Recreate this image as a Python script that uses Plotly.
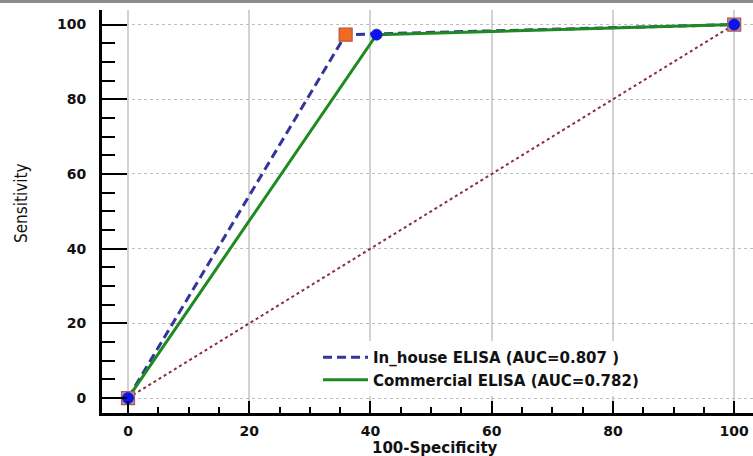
import plotly.graph_objects as go

# Data
inhouse_x = [0, 35.9, 100]
inhouse_y = [0, 97.3, 100]
commercial_x = [0, 41.0, 100]
commercial_y = [0, 97.3, 100]
ref_x = [0, 100]
ref_y = [0, 100]
inhouse_name = "In_house ELISA (AUC=0.807 )"
commercial_name = "Commercial ELISA (AUC=0.782)"
tick_vals = [0, 20, 40, 60, 80, 100]
tick_text = ["0", "20", "40", "60", "80", "100"]
inhouse_marker_colors = ["#A08FCB", "#F26A1E", "#A08FCB"]

fig = go.Figure()

fig.add_trace(go.Scatter(x=ref_x, y=ref_y, mode="lines",
                         line=dict(color="#8B2E3A", width=2, dash="dot"),
                         showlegend=False, hoverinfo="skip"))
fig.add_trace(go.Scatter(x=inhouse_x, y=inhouse_y, mode="lines", name=inhouse_name,
                         line=dict(color="#34349A", width=3, dash="9px,5px")))
fig.add_trace(go.Scatter(x=commercial_x, y=commercial_y, mode="lines", name=commercial_name,
                         line=dict(color="#1E8A22", width=3)))
fig.add_trace(go.Scatter(x=inhouse_x, y=inhouse_y, mode="markers", showlegend=False,
                         marker=dict(symbol="square", size=13, color=inhouse_marker_colors,
                                     line=dict(color="#B0584A", width=1.2))))
fig.add_trace(go.Scatter(x=commercial_x, y=commercial_y, mode="markers", showlegend=False,
                         marker=dict(symbol="circle", size=11, color="#0A14F0",
                                     line=dict(color="#1A1A90", width=0.8))))

tick_font = dict(family="DejaVu Sans", size=14, color="#111111", weight="bold")

fig.update_xaxes(
    range=[-4.29, 103.1], tickvals=tick_vals, ticktext=tick_text,
    showline=True, linecolor="black", linewidth=3,
    ticks="inside", ticklen=12, tickwidth=2, tickcolor="black",
    minor=dict(dtick=5, tick0=0, ticks="inside", ticklen=6, tickwidth=2, tickcolor="black",
               showgrid=False),
    showgrid=True, gridcolor="#D2D2D2", gridwidth=1.5,
    zeroline=False, tickfont=tick_font, ticklabelstandoff=3, automargin=False,
)
fig.update_yaxes(
    range=[-4.0, 103.9], tickvals=tick_vals, ticktext=tick_text,
    showline=True, linecolor="black", linewidth=3,
    ticks="inside", ticklen=25, tickwidth=2, tickcolor="black",
    minor=dict(dtick=5, tick0=0, ticks="inside", ticklen=13, tickwidth=2, tickcolor="black",
               showgrid=False),
    showgrid=True, gridcolor="#BDBDBD", gridwidth=1, griddash="dot",
    zeroline=False, tickfont=tick_font, ticklabelstandoff=10, automargin=False,
)

fig.add_annotation(text="Sensitivity", xref="paper", yref="paper",
                   x=(21 - 102) / 651, y=(413 - 203) / 403, textangle=-90,
                   showarrow=False, xanchor="center", yanchor="middle",
                   font=dict(family="Liberation Sans Narrow, DejaVu Sans Condensed, sans-serif",
                             size=17, color="#111111"))
fig.add_annotation(text="100-Specificity", xref="paper", yref="paper",
                   x=(435 - 102) / 651, y=(413 - 448) / 403,
                   showarrow=False, xanchor="center", yanchor="middle",
                   font=dict(family="DejaVu Sans", size=15, color="#111111", weight="bold"))

fig.add_shape(type="rect", xref="paper", yref="paper",
              x0=-102 / 651, x1=1.0, y0=(413 - 3) / 403, y1=(413 + 1) / 403 + 1,
              fillcolor="#8C8C8C", line=dict(width=0), layer="above")

fig.update_layout(
    width=753, height=456,
    margin=dict(l=102, r=0, t=10, b=43),
    paper_bgcolor="white", plot_bgcolor="white",
    legend=dict(x=(318 - 102) / 651, y=(413 - 341) / 403, xanchor="left", yanchor="top",
                bgcolor="rgba(255,255,255,0.9)", borderwidth=0,
                font=dict(family="DejaVu Sans", size=15, color="#111111", weight="bold"),
                itemwidth=45, tracegroupgap=0),
    showlegend=True,
)

fig.write_html("out.html", config={"displayModeBar": False},
               post_script="document.body.style.margin='0';document.body.style.overflow='hidden';")
